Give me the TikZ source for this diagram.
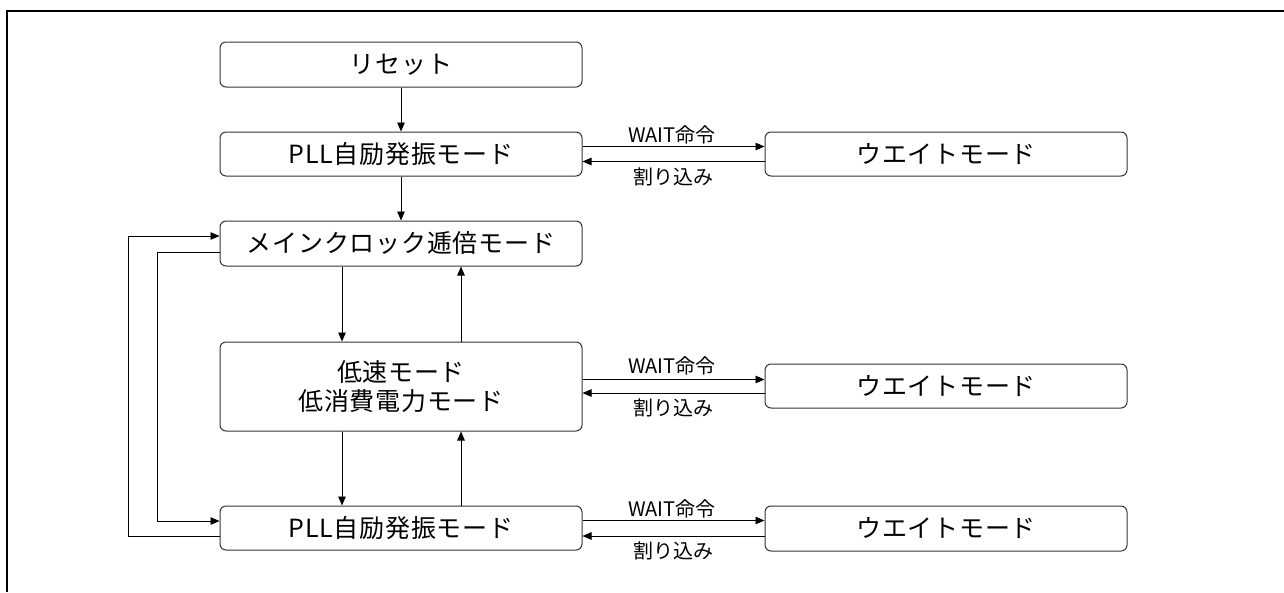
\documentclass[tikz,border=0pt]{standalone}
\usepackage{fontspec}
\setmainfont{Noto Sans CJK JP}
\usetikzlibrary{arrows.meta}
\begin{document}
\begin{tikzpicture}[x=1pt,y=-1pt,
  box/.style={draw=black!80,line width=1pt,rounded corners=6pt,minimum width=362pt,inner sep=0pt,font=\fontsize{25}{31}\selectfont\addfontfeature{LetterSpace=3},align=center},
  arr/.style={draw=black,line width=0.9pt,-{Triangle[length=9pt,width=7.5pt]}},
  lbl/.style={inner sep=0pt,font=\fontsize{20}{24}\selectfont}]
\useasboundingbox (0,0) rectangle (1284,592);
\draw[line width=1.8pt] (7,592) -- (7,11) -- (1284,11);
\node[box,minimum height=45pt] (reset) at (401,64.5) {リセット};
\node[box,minimum height=44pt] (pll1) at (401,154) {PLL自励発振モード};
\node[box,minimum height=44pt] (wait1) at (946,154) {ウエイトモード};
\node[box,minimum height=45pt] (main) at (401,243.5) {メインクロック逓倍モード};
\node[box,minimum height=89pt] (low) at (401,386.5) {低速モード\\[-2pt]低消費電力モード};
\node[box,minimum height=44pt] (wait2) at (946,386) {ウエイトモード};
\node[box,minimum height=44pt] (pll2) at (401,528) {PLL自励発振モード};
\node[box,minimum height=45pt] (wait3) at (946,528.5) {ウエイトモード};
\draw[arr] (reset) -- (pll1);
\draw[arr] (pll1) -- (main);
\draw[arr] ([yshift=7.5pt]pll1.east) -- ([yshift=7.5pt]pll1.east -| wait1.west);
\draw[arr] ([yshift=-7.5pt]wait1.west) -- ([yshift=-7.5pt]wait1.west -| pll1.east);
\node[lbl] (w1a) at (672,135) {WAIT命令};
\node[lbl] (w1b) at (673,177) {割り込み};
\draw[arr] ([xshift=-59pt]main.south) -- ([xshift=-59pt]low.north);
\draw[arr] ([xshift=60pt]low.north) -- ([xshift=60pt]main.south);
\draw[arr] ([yshift=7pt]low.east) -- ([yshift=7pt]low.east -| wait2.west);
\draw[arr] ([yshift=-7pt]wait2.west) -- ([yshift=-7pt]wait2.west -| low.east);
\node[lbl] (w2a) at (672,366) {WAIT命令};
\node[lbl] (w2b) at (673,408) {割り込み};
\draw[arr] ([xshift=-59pt]low.south) -- ([xshift=-59pt]pll2.north);
\draw[arr] ([xshift=60pt]pll2.north) -- ([xshift=60pt]low.south);
\draw[arr] ([yshift=7.5pt]pll2.east) -- ([yshift=7.5pt]pll2.east -| wait3.west);
\draw[arr] ([yshift=-7.5pt]wait3.west) -- ([yshift=-7.5pt]wait3.west -| pll2.east);
\node[lbl] (w3a) at (672,509) {WAIT命令};
\node[lbl] (w3b) at (673,551) {割り込み};
\draw[arr] ([yshift=-8pt]pll2.west) -- ++(-91pt,0pt) |- ([yshift=7.5pt]main.west);
\draw[arr] ([yshift=-8.5pt]main.west) -- ++(-62pt,0pt) |- ([yshift=7pt]pll2.west);
\end{tikzpicture}
\end{document}
